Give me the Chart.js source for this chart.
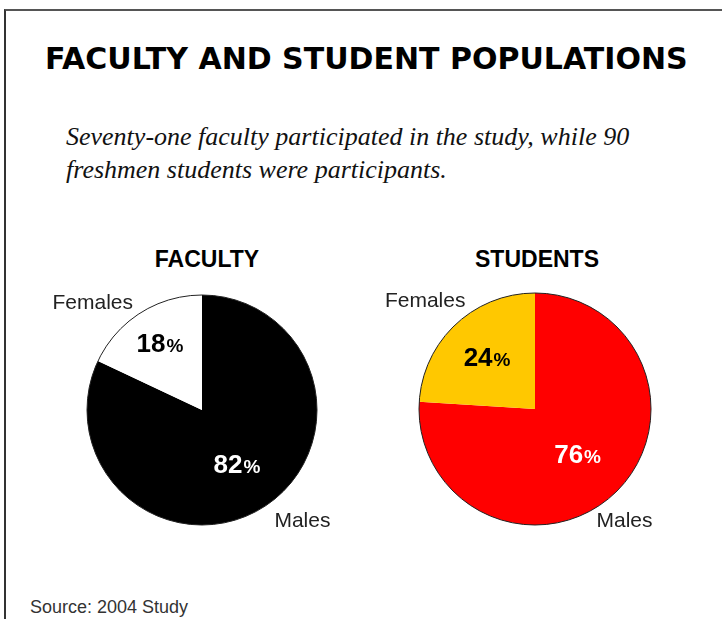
<!DOCTYPE html>
<html>
<head>
<meta charset="utf-8">
<script src="https://cdn.jsdelivr.net/npm/chart.js@4"></script>
<style>
  body { margin: 0; width: 722px; height: 619px; background: #fff; position: relative; overflow: hidden; font-family: "Liberation Sans", Arial, sans-serif; }
  .frame { position: absolute; left: 4px; top: 9px; width: 730px; height: 620px; border-top: 2px solid #555; border-left: 2px solid #333; }
  .title { position: absolute; left: 45px; top: 41px; font-family: "DejaVu Sans", sans-serif; font-weight: bold; font-size: 30px; color: #000; white-space: nowrap; }
  .sub { position: absolute; left: 66px; top: 120px; font-family: "Liberation Serif", "Times New Roman", serif; font-style: italic; font-size: 26px; line-height: 33px; color: #111; white-space: nowrap; }
  .head { position: absolute; top: 246px; font-weight: bold; font-size: 23px; color: #000; text-align: center; width: 200px; }
  .src { position: absolute; left: 30px; top: 597px; font-size: 18px; color: #333; }
  canvas { position: absolute; }
</style>
</head>
<body>
<div class="frame"></div>
<div class="title">FACULTY AND STUDENT POPULATIONS</div>
<div class="sub">Seventy-one faculty participated in the study, while 90<br>freshmen students were participants.</div>
<div class="head" id="h0" style="left:107px"></div>
<div class="head" id="h1" style="left:437px"></div>
<div class="src">Source: 2004 Study</div>
<canvas id="c0" width="330" height="270" style="left:40px;top:280px"></canvas>
<canvas id="c1" width="320" height="270" style="left:370px;top:280px"></canvas>
<script>
// data
const groups = ["FACULTY", "STUDENTS"];
const sliceLabels = ["Males", "Females"];
const facultyValues = [82, 18];
const studentValues = [76, 24];

// label drawing: outline, percents inside, names outside
const pieLabels = {
  id: "pieLabels",
  afterDatasetsDraw(chart, args, opts) {
    const ctx = chart.ctx;
    const arcs = chart.getDatasetMeta(0).data;
    const vals = chart.data.datasets[0].data;
    const cx = arcs[0].x, cy = arcs[0].y, r = arcs[0].outerRadius;
    ctx.save();
    ctx.beginPath();
    ctx.arc(cx, cy, r, 0, Math.PI * 2);
    ctx.strokeStyle = "#222";
    ctx.lineWidth = 1;
    ctx.stroke();

    arcs.forEach((a, i) => {
      const mid = (a.startAngle + a.endAngle) / 2;
      const px = cx + Math.cos(mid) * r * opts.radii[i];
      const py = cy + Math.sin(mid) * r * opts.radii[i];
      const num = String(vals[i]);
      ctx.font = "bold 26px 'Liberation Sans', Arial, sans-serif";
      const w1 = ctx.measureText(num).width;
      ctx.font = "bold 19px 'Liberation Sans', Arial, sans-serif";
      const w2 = ctx.measureText("%").width;
      const x0 = px - (w1 + w2) / 2;
      ctx.fillStyle = opts.textColors[i];
      ctx.textAlign = "left";
      ctx.textBaseline = "alphabetic";
      ctx.font = "bold 26px 'Liberation Sans', Arial, sans-serif";
      ctx.fillText(num, x0, py + 9);
      ctx.font = "bold 19px 'Liberation Sans', Arial, sans-serif";
      ctx.fillText("%", x0 + w1 + 1, py + 9);
    });

    ctx.font = "21px 'Liberation Sans', Arial, sans-serif";
    ctx.fillStyle = "#222";
    ctx.textBaseline = "middle";
    ctx.textAlign = "right";
    ctx.fillText(chart.data.labels[1], cx - r * 0.6, cy - r * 0.93);
    ctx.textAlign = "left";
    ctx.fillText(chart.data.labels[0], cx + r * opts.nameX, cy + r * 0.97);
    ctx.restore();
  }
};

function makePie(id, values, colors, textColors, radii, nameX, padding) {
  new Chart(document.getElementById(id), {
    type: "pie",
    data: {
      labels: sliceLabels,
      datasets: [{ data: values, backgroundColor: colors, borderWidth: 0 }]
    },
    options: {
      responsive: false,
      animation: false,
      devicePixelRatio: 1,
      layout: { padding: padding },
      plugins: {
        legend: { display: false },
        tooltip: { enabled: false },
        pieLabels: { textColors: textColors, radii: radii, nameX: nameX }
      }
    },
    plugins: [pieLabels]
  });
}

document.getElementById("h0").textContent = groups[0];
document.getElementById("h1").textContent = groups[1];

makePie("c0", facultyValues, ["#000000", "#ffffff"], ["#fff", "#000"], [0.56, 0.69], 0.63, { left: 47, right: 53, top: 15, bottom: 25 });
makePie("c1", studentValues, ["#ff0000", "#ffc800"], ["#fff", "#000"], [0.53, 0.61], 0.53, { left: 49, right: 39, top: 13, bottom: 25 });
</script>
</body>
</html>
